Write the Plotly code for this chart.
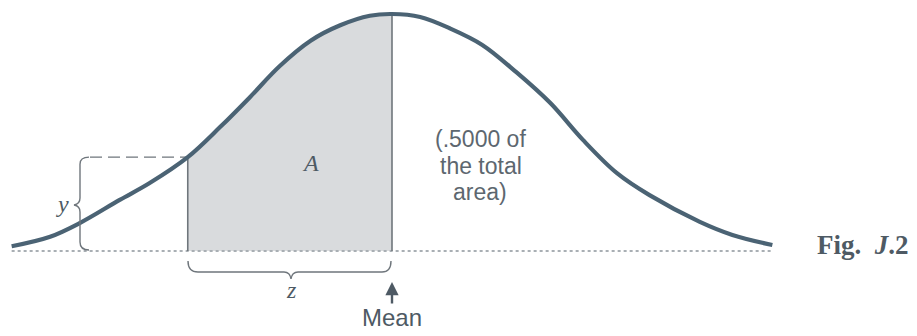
import plotly.graph_objects as go

# curve: z (in sigma units) and ordinate (density)
curve_z = [-2.57, -2.31, -2.11, -1.84, -1.64, -1.38, -1.16, -0.96, -0.76, -0.55, -0.35, -0.15, 0.0,
           0.19, 0.39, 0.61, 0.84, 1.07, 1.29, 1.52, 1.74, 2.08, 2.30, 2.57]
curve_y = [0.008, 0.024, 0.047, 0.086, 0.114, 0.158, 0.209, 0.259, 0.311, 0.354, 0.380, 0.396, 0.399,
           0.394, 0.375, 0.347, 0.301, 0.249, 0.187, 0.131, 0.094, 0.049, 0.027, 0.010]

z_value = -1.38   # left edge of shaded area A
y_value = 0.158   # ordinate at z
mean = 0.0

W, H = 917, 336
OFF = 8  # page body margin

# screen pixel -> data helpers (used only for placing labels)
def X(px):
    return (px - 392) / 148

def Y(py):
    return (251 - py) * 0.399 / 237

CURVE = '#4b6374'
EDGE = '#6f767c'
TEXT = '#4e5a64'

fig = go.Figure()

# shaded area A between z and the mean
shade_x = [z for z in curve_z if z_value <= z <= mean]
shade_y = [y for z, y in zip(curve_z, curve_y) if z_value <= z <= mean]
fig.add_trace(go.Scatter(x=shade_x, y=shade_y, mode='lines', line=dict(width=0, shape='spline'),
                         fill='tozeroy', fillcolor='#d9dbdd', hoverinfo='skip'))

# baseline
fig.add_trace(go.Scatter(x=[curve_z[0], curve_z[-1]], y=[0, 0], mode='lines',
                         line=dict(color='#a9afb4', width=2, dash='dot'), hoverinfo='skip'))

# vertical edges
fig.add_trace(go.Scatter(x=[z_value, z_value], y=[0, y_value], mode='lines',
                         line=dict(color=EDGE, width=1.6), hoverinfo='skip'))
fig.add_trace(go.Scatter(x=[mean, mean], y=[0, max(curve_y)], mode='lines',
                         line=dict(color=EDGE, width=1.6), hoverinfo='skip'))

# dashed line from y brace to curve
fig.add_trace(go.Scatter(x=[X(90), z_value], y=[y_value, y_value], mode='lines',
                         line=dict(color=EDGE, width=1.4, dash='12px,6px'), hoverinfo='skip'))

# the curve
fig.add_trace(go.Scatter(x=curve_z, y=curve_y, mode='lines',
                         line=dict(color=CURVE, width=4.2, shape='spline', smoothing=1.0), hoverinfo='skip'))


def path(points):
    out = []
    for cmd, pts in points:
        out.append(cmd + ' '.join(f'{X(a):.4f},{Y(b):.4f}' for a, b in pts))
    return ' '.join(out)

# y brace (opens to the right)
ytop = 251 - y_value / 0.399 * 237
yb = path([('M', [(89, ytop)]), ('Q', [(80, ytop), (80, ytop + 7)]), ('L', [(80, 198)]),
           ('Q', [(80, 204), (74, 205)]), ('Q', [(80, 206), (80, 212)]), ('L', [(80, 242)]),
           ('Q', [(80, 250), (89, 250)])])
# z brace (opens upward)
zb = path([('M', [(188, 261)]), ('Q', [(188, 272), (198, 272)]), ('L', [(284, 272)]),
           ('Q', [(290, 272), (291, 279)]), ('Q', [(292, 272), (298, 272)]), ('L', [(382, 272)]),
           ('Q', [(391, 272), (391, 261)])])
shapes = [dict(type='path', path=yb, line=dict(color=EDGE, width=1.4)),
          dict(type='path', path=zb, line=dict(color=EDGE, width=1.4))]

serif = 'Liberation Serif'
sans = 'Liberation Sans'
grey = '#5d676f'
annotations = [
    dict(x=X(62), y=Y(204), text='<i>y</i>', font=dict(family=serif, size=24, color=TEXT)),
    dict(x=X(310), y=Y(163), text='<i>A</i>', font=dict(family=serif, size=24, color=TEXT)),
    dict(x=X(291), y=Y(290), text='<i>z</i>', font=dict(family=serif, size=24, color=TEXT)),
    dict(x=X(480), y=Y(139), text='(.5000 of', font=dict(family=sans, size=23, color=grey)),
    dict(x=X(481), y=Y(166), text='the total', font=dict(family=sans, size=23, color=grey)),
    dict(x=X(480), y=Y(192), text='area)', font=dict(family=sans, size=23, color=grey)),
    dict(x=X(392), y=Y(317), text='Mean', font=dict(family=sans, size=24, color=TEXT)),
    dict(x=X(863), y=Y(245), text='<b>Fig.&nbsp; <i>J</i>.2</b>', font=dict(family=serif, size=27, color=TEXT)),
    # arrow pointing up at the mean
    dict(x=X(392), y=Y(282), ax=X(392), ay=Y(305), xref='x', yref='y', axref='x', ayref='y',
         text='', showarrow=True, arrowhead=2, arrowsize=1.1, arrowwidth=2.4, arrowcolor=TEXT),
]
for a in annotations:
    a.setdefault('showarrow', False)
    a.setdefault('xref', 'x')
    a.setdefault('yref', 'y')

fig.update_layout(
    width=W, height=H,
    margin=dict(l=0, r=0, t=0, b=0),
    plot_bgcolor='white', paper_bgcolor='white',
    showlegend=False,
    xaxis=dict(range=[X(OFF), X(OFF + W)], visible=False),
    yaxis=dict(range=[Y(OFF + H), Y(OFF)], visible=False),
    shapes=shapes,
    annotations=annotations,
)

fig.write_html('out.html')
